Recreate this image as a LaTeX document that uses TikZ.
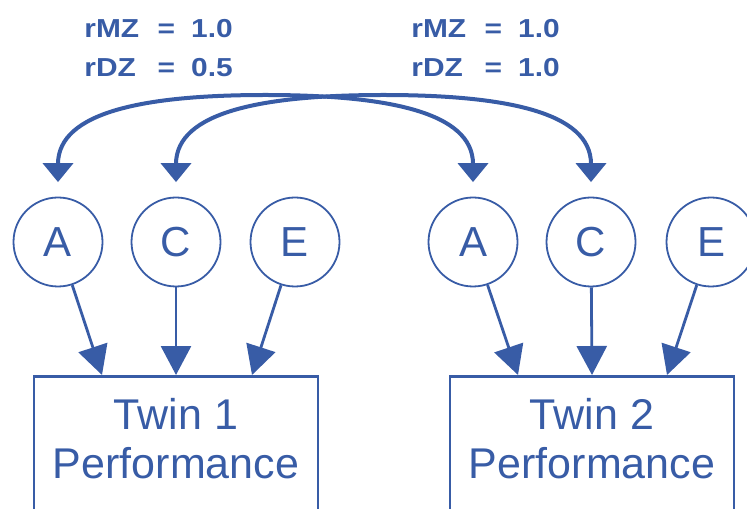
\documentclass[tikz,border=0pt]{standalone}
\usepackage{fontspec}
\setmainfont{Liberation Sans}
\usepackage{graphicx}
\usetikzlibrary{arrows.meta}
\definecolor{twinblue}{RGB}{56,92,166}
\begin{document}
\begin{tikzpicture}[x=0.5pt,y=0.5pt,
  latent/.style={circle, draw=twinblue, line width=0.9pt, minimum size=44.5pt, inner sep=0pt, text=twinblue, font=\fontsize{21}{25}\selectfont},
  obsbox/.style={rectangle, draw=twinblue, line width=1.3pt, minimum width=142pt, minimum height=80pt, anchor=north, inner sep=0pt},
  boxtext/.style={text=twinblue, align=center, font=\fontsize{21.5}{24.5}\selectfont, inner sep=0pt, anchor=base},
  loadarrow/.style={color=twinblue, line width=1.4pt, -{Triangle[length=14.5pt,width=15pt]}},
  corrarrow/.style={color=twinblue, line width=2pt, {Triangle[length=9.5pt,width=15pt]}-{Triangle[length=9.5pt,width=15pt]}, shorten <=7.25pt, shorten >=7.25pt},
  corrlabel/.style={text=twinblue, inner sep=0pt, anchor=base west, font=\bfseries\fontsize{13}{19.5}\selectfont}
]
\useasboundingbox (0,0) rectangle (747,508);
\clip (0,0) rectangle (747,508);

% correlation labels
\node[corrlabel] (lab1) at (84,470.5) {\scalebox{1.15}[1]{\begin{tabular}[t]{@{}l@{\hspace{8pt}}c@{\hspace{7pt}}l@{}}rMZ & = & 1.0\\ rDZ & = & 0.5\end{tabular}}};
\node[corrlabel] (lab2) at (411,470.5) {\scalebox{1.15}[1]{\begin{tabular}[t]{@{}l@{\hspace{8pt}}c@{\hspace{7pt}}l@{}}rMZ & = & 1.0\\ rDZ & = & 1.0\end{tabular}}};

% latent factors
\node[latent] (A1) at (58,266) {A};
\node[latent] (C1) at (176,266) {C};
\node[latent] (E1) at (295,266) {E};
\node[latent] (A2) at (473,266) {A};
\node[latent] (C2) at (591,266) {C};
\node[latent] (E2) at (711,266) {E};

% observed boxes
\node[obsbox] (T1) at (176,133) {};
\node[obsbox] (T2) at (592,133) {};
\node[boxtext] (T1text) at (176,30) {Twin 1\\Performance};
\node[boxtext] (T2text) at (592,30) {Twin 2\\Performance};

% loadings
\draw[loadarrow] (A1) -- ([xshift=-37pt]T1.north);
\draw[loadarrow] (C1) -- (T1.north);
\draw[loadarrow] (E1) -- ([xshift=38pt]T1.north);
\draw[loadarrow] (A2) -- ([xshift=-37pt]T2.north);
\draw[loadarrow] (C2) -- (T2.north);
\draw[loadarrow] (E2) -- ([xshift=37.5pt]T2.north);

% correlations
\coordinate (pA) at (265.5,413);
\coordinate (pC) at (383.5,413);
\draw[corrarrow] (A1.north) .. controls +(0,85) and +(-120,0) .. (pA) .. controls +(120,0) and +(0,85) .. (A2.north);
\draw[corrarrow] (C1.north) .. controls +(0,85) and +(-120,0) .. (pC) .. controls +(120,0) and +(0,85) .. (C2.north);
\end{tikzpicture}
\end{document}
